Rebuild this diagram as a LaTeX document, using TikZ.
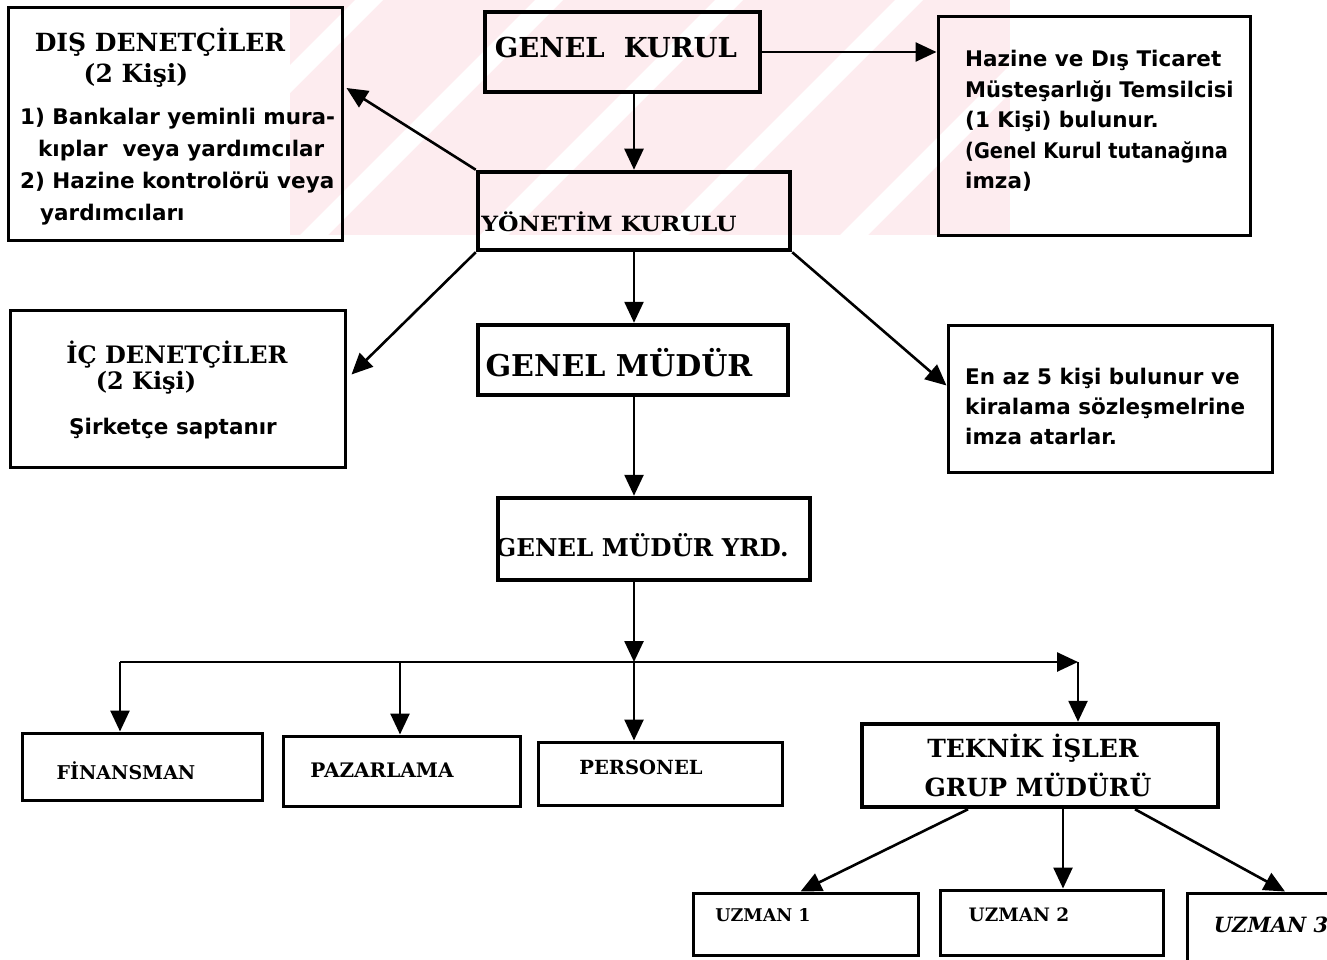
\documentclass[tikz,border=0pt]{standalone}
\usepackage{fontspec}
\setmainfont{DejaVu Serif}
\newfontfamily\bodyfont{DejaVu Sans}
\usetikzlibrary{arrows.meta,calc}

\definecolor{wmpink}{RGB}{253,236,239}

\tikzset{
  box/.style={draw=black, line width=3pt, inner sep=0pt, rectangle},
  heavybox/.style={box, line width=4.5pt},
  conn/.style={line width=2.6pt, -{Triangle[length=21pt,width=19pt]}},
  title/.style={inner sep=0pt, font=\bfseries\fontsize{#1}{#1}\selectfont},
  body/.style={inner sep=0pt, align=left, font=\bodyfont\bfseries\fontsize{21.5}{#1}\selectfont},
}

\begin{document}
\begin{tikzpicture}[x=1pt,y=-1pt]
\useasboundingbox (0,0) rectangle (1327,960);
\fill[white] (0,0) rectangle (1327,960);

% pale striped band behind the top rows
\begin{scope}
  \clip (290,0) rectangle (1010,235);
  \fill[wmpink] (290,0) rectangle (1010,235);
  \foreach \s in {120,300,480,660,840}
    \fill[white] (\s,235) -- (\s+28,235) -- (\s+263,0) -- (\s+235,0) -- cycle;
\end{scope}

% ---------- boxes ----------
\node[box, minimum width=334pt, minimum height=232pt] (dis) at (175,124) {};
\node[heavybox, minimum width=275pt, minimum height=80pt] (gk) at (622.5,52) {};
\node[box, minimum width=312pt, minimum height=218pt] (haz) at (1094,126) {};
\node[heavybox, minimum width=312pt, minimum height=78pt] (yk) at (634,211) {};
\node[box, minimum width=335pt, minimum height=157pt] (ic) at (177.5,388.5) {};
\node[heavybox, minimum width=310pt, minimum height=70pt] (gm) at (633,360) {};
\node[box, minimum width=324pt, minimum height=147pt] (enaz) at (1110,398.5) {};
\node[heavybox, minimum width=312pt, minimum height=82pt] (gmy) at (654,539) {};
\node[box, minimum width=240pt, minimum height=67pt] (fin) at (142,766.5) {};
\node[box, minimum width=237pt, minimum height=70pt] (paz) at (401.5,771) {};
\node[box, minimum width=244pt, minimum height=63pt] (per) at (660,773.5) {};
\node[heavybox, minimum width=356pt, minimum height=83pt] (tek) at (1040,765.5) {};
\node[box, minimum width=225pt, minimum height=62pt] (u1) at (805.5,924) {};
\node[box, minimum width=223pt, minimum height=65pt] (u2) at (1051.5,922.5) {};
\node[box, minimum width=160pt, minimum height=90pt] (u3) at (1267,938) {};

% ---------- texts ----------
\node[title=25] (dis-t) at (160,42) {DIŞ DENETÇİLER};
\node[title=25] (dis-n) at (136,75) {(2 Kişi)};
\node[body=32, anchor=north west] (dis-b) at (20,108)
  {1) Bankalar yeminli mura-\\\hspace*{18pt}kıplar\ \ veya yardımcılar\\2) Hazine kontrolörü veya\\\hspace*{20pt}yardımcıları};

\node[title=27.5] (gk-t) at (616,47) {GENEL\ \ KURUL};

\node[body=30.5, anchor=north west] (haz-b) at (965,50)
  {Hazine ve Dış Ticaret\\\scalebox{0.98}[1]{Müsteşarlığı Temsilcisi}\\(1 Kişi) bulunur.\\\scalebox{0.9}[1]{(Genel Kurul tutanağına}\\imza)};

\node[title=21] (yk-t) at (609,222) {\scalebox{1.12}[1]{YÖNETİM KURULU}};

\node[title=24] (ic-t) at (177,355) {İÇ DENETÇİLER};
\node[title=24] (ic-n) at (146,383) {(2 Kişi)};
\node[title=10, font=\bodyfont\bfseries\fontsize{21.5}{21.5}\selectfont] (ic-b) at (173,429) {Şirketçe saptanır};

\node[title=30] (gm-t) at (619,363) {GENEL MÜDÜR};

\node[body=30, anchor=north west] (enaz-b) at (965,368)
  {En az 5 kişi bulunur ve\\kiralama sözleşmelrine\\imza atarlar.};

\node[title=24.5] (gmy-t) at (642,545) {GENEL MÜDÜR YRD.};

\node[title=19] (fin-t) at (126,771) {FİNANSMAN};
\node[title=20] (paz-t) at (382,770) {PAZARLAMA};
\node[title=19.5] (per-t) at (641,767) {PERSONEL};

\node[title=25] (tek-t1) at (1033,748) {TEKNİK İŞLER};
\node[title=25] (tek-t2) at (1038,785) {GRUP MÜDÜRÜ};

\node[title=17.5] (u1-t) at (763,915) {UZMAN 1};
\node[title=18.5] (u2-t) at (1019,915) {UZMAN 2};
\node[title=21, font=\bfseries\itshape\fontsize{21}{21}\selectfont] (u3-t) at (1271,925) {UZMAN 3};

% ---------- connectors ----------
\draw[conn] (gk.east) -- (gk.east -| haz.west);
\draw[conn] (yk.north |- gk.south) -- (yk.north);
\draw[conn] (yk.north west) -- ($(dis.east)+(3,-36)$);
\draw[conn] (yk.south west) -- ($(ic.east)+(5,-14)$);
\draw[conn] (yk.south) -- (yk.south |- gm.north);
\draw[conn] (yk.south east) -- ($(enaz.west)+(0,-13)$);
\draw[conn] (gm.south -| yk.south) -- (gmy.north -| yk.south);

% distribution bus under the deputy general manager
\coordinate (bL) at (120,662);
\coordinate (bP) at (400,662);
\coordinate (bM) at (634,662);
\coordinate (bR) at (1078,662);
\draw[conn] (gmy.south -| bM) -- (bM);
\draw[conn] (bL) -- (bR);
\draw[conn] (bL) -- (bL |- fin.north);
\draw[conn] (bP) -- (bP |- paz.north);
\draw[conn] (bM) -- (bM |- per.north);
\draw[conn] (bR) -- (bR |- tek.north);

\draw[conn] ($(tek.south)+(-72,0)$) -- ($(u1.north)+(-5,0)$);
\draw[conn] ($(tek.south)+(23,0)$) -- ($(u2.north)+(11.5,0)$);
\draw[conn] ($(tek.south)+(95,0)$) -- ($(u3.north)+(18,0)$);
\end{tikzpicture}
\end{document}
